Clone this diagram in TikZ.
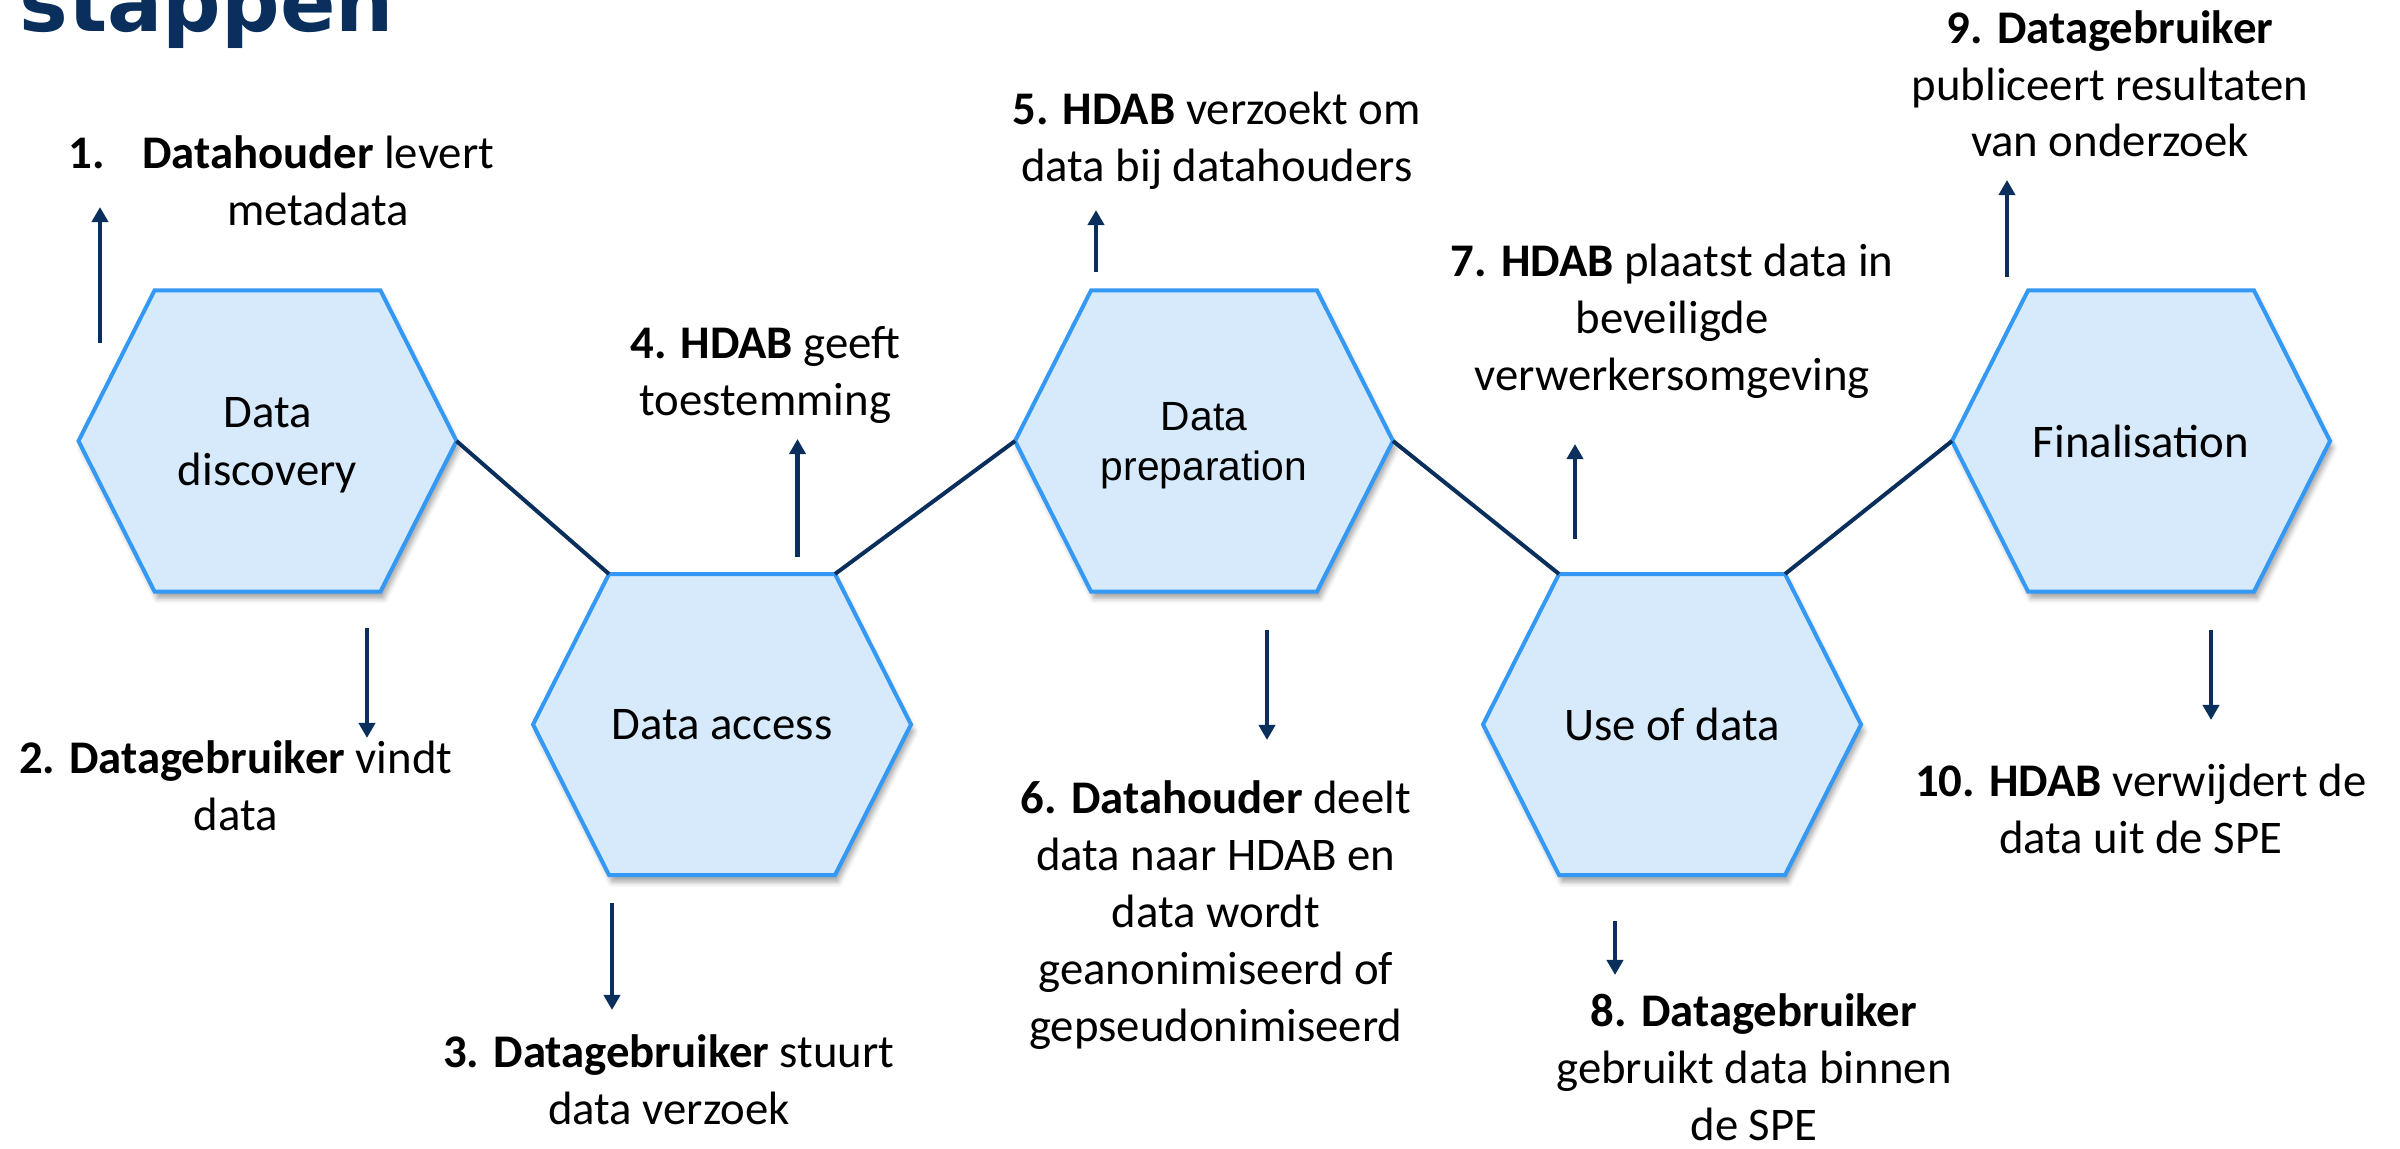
\documentclass[tikz,border=0pt]{standalone}
\usepackage{fontspec}
\setmainfont{Carlito}
\newfontfamily\arialfont{Liberation Sans}
\newfontfamily\titlefont{DejaVu Sans}
\usetikzlibrary{arrows.meta,shadows.blur}
\definecolor{hexfill}{RGB}{214,234,252}
\definecolor{hexline}{RGB}{52,152,245}
\definecolor{navy}{RGB}{10,47,92}
\tikzset{
  hexa/.style={draw=hexline, fill=hexfill, line width=0.04cm,
    blur shadow={shadow xshift=0.03cm, shadow yshift=-0.07cm, shadow opacity=35, shadow blur radius=0.05cm}},
  hextext/.style={align=center, inner sep=0pt, font=\fontsize{13.3}{16.5}\selectfont},
  steplabel/.style={align=center, anchor=base, inner sep=0pt, font=\fontsize{13.3}{16.2}\selectfont},
  link/.style={draw=navy, line width=0.04cm},
  steparrow/.style={draw=navy, line width=0.043cm, -{Triangle[width=0.16cm,length=0.15cm]}}
}

\begin{document}
\begin{tikzpicture}[x=0.01cm, y=-0.01cm]
\clip (0,0) rectangle (2400,1149);
\node[anchor=base west, inner sep=0pt, text=navy, font=\titlefont\fontsize{23.3}{28}\selectfont\bfseries] (title) at (19,31.7) {stappen};

% hexagons
\foreach \n/\x/\y in {h1/267.5/441, h2/722/724.5, h3/1204/441, h4/1672/724.5, h5/2141/441}{
  \coordinate (\n) at (\x,\y);
  \draw[hexa] (\n) +(-189,0) coordinate (\n-w) -- +(-113,-150.5) coordinate (\n-nw) -- +(113,-150.5) coordinate (\n-ne)
    -- +(189,0) coordinate (\n-e) -- +(113,150.5) -- +(-113,150.5) -- cycle;
}
\node[hextext, yshift=-0.04cm] (t1) at (h1) {Data\\discovery};
\node[hextext] (t2) at (h2) {Data access};
\node[hextext, yshift=-0.05cm, font=\arialfont\fontsize{11.6}{14.2}\selectfont] (t3) at (h3) {Data\\preparation};
\node[hextext] (t4) at (h4) {Use of data};
\node[hextext] (t5) at (h5) {Finalisation};

% zigzag between the phases
\draw[link] (h1-e) -- (h2-nw);
\draw[link] (h2-ne) -- (h3-w);
\draw[link] (h3-e) -- (h4-nw);
\draw[link] (h4-ne) -- (h5-w);

% arrows to the steps
\foreach \i/\x/\ya/\yb in {1/100/343/207, 2/367/628/738, 3/612/903/1010, 4/797.5/557/439, 5/1096/272.5/210,
    6/1267/630/740, 7/1575/539/444, 8/1615/921/975, 9/2007/277/180, 10/2211/630/720}
  \draw[steparrow] (\x,\ya) coordinate (a\i) -- (\x,\yb) coordinate (b\i);

% steps (placed at the baseline of their last line)
\node[steplabel] (s1) at (318,225.3) {\llap{\textbf{1.}\hspace{0.37cm}}\textbf{Datahouder} levert\\metadata};
\node[steplabel] (s2) at (235.7,830.7) {\textbf{2. Datagebruiker} vindt\\data};
\node[steplabel] (s3) at (668.9,1124.6) {\textbf{3. Datagebruiker} stuurt\\data verzoek};
\node[steplabel] (s4) at (765.3,415.9) {\textbf{4. HDAB} geeft\\toestemming};
\node[steplabel] (s5) at (1216.8,181.7) {\textbf{5. HDAB} verzoekt om\\data bij datahouders};
\node[steplabel] (s6) at (1215.8,1041.7) {\textbf{6. Datahouder} deelt\\data naar HDAB en\\data wordt\\geanonimiseerd of\\gepseudonimiseerd};
\node[steplabel] (s7) at (1672.2,390.3) {\textbf{7. HDAB} plaatst data in\\beveiligde\\verwerkersomgeving};
\node[steplabel] (s8) at (1754,1140.3) {\textbf{8. Datagebruiker}\\gebruikt data binnen\\de SPE};
\node[steplabel] (s9) at (2110,157) {\textbf{9. Datagebruiker}\\publiceert resultaten\\van onderzoek};
\node[steplabel] (s10) at (2140.8,853.3) {\textbf{10. HDAB} verwijdert de\\data uit de SPE};
\end{tikzpicture}
\end{document}
